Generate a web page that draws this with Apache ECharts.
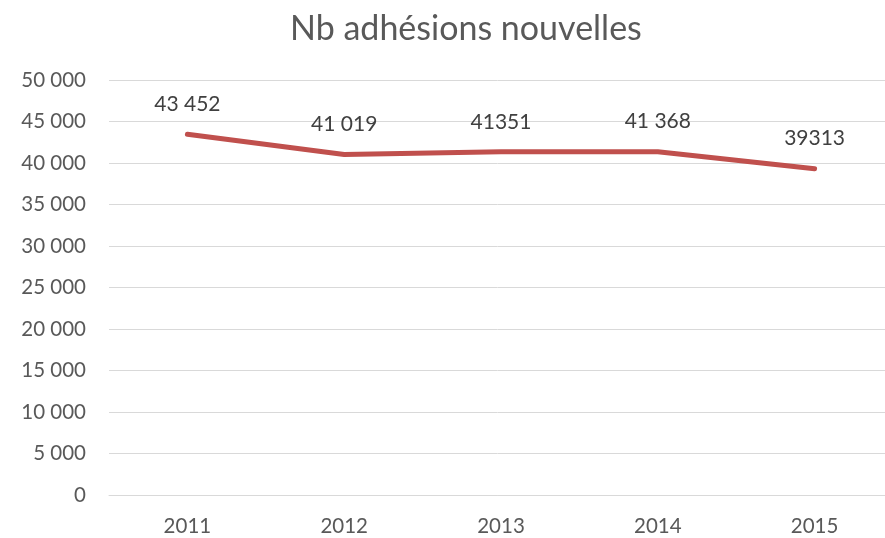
<!DOCTYPE html>
<html>
<head>
<meta charset="utf-8">
<script src="https://cdn.jsdelivr.net/npm/echarts@6/dist/echarts.min.js"></script>
<style>
  html, body { margin: 0; padding: 0; background: #fff; }
  #chart { width: 885px; height: 538px; }
</style>
</head>
<body>
<div id="chart"></div>
<script>
const years = ['2011', '2012', '2013', '2014', '2015']
const adhesions = [43452, 41019, 41351, 41368, 39313]
// labels as printed on the original (mixed formatting)
const pointLabels = ['43 452', '41 019', '41351', '41 368', '39313']

const textColor = '#595959'
const fontFamily = 'Lato, "Open Sans", sans-serif'

function formatThousands(value) {
  return String(value).replace(/\B(?=(\d{3})+(?!\d))/g, ' ')
}

const chart = echarts.init(document.getElementById('chart'))
chart.setOption({
  animation: false,
  title: {
    text: 'Nb adhésions nouvelles',
    left: 285,
    top: 7,
    textStyle: { color: textColor, fontSize: 34, fontWeight: 'normal', fontFamily }
  },
  grid: { left: 109, width: 784, top: 80, height: 415, outerBoundsMode: 'none' },
  xAxis: {
    type: 'category',
    data: years,
    axisLine: { lineStyle: { color: '#d9d9d9', width: 1 } },
    axisTick: { show: false },
    axisLabel: { color: textColor, fontSize: 20.5, fontFamily, margin: 21 }
  },
  yAxis: {
    type: 'value',
    min: 0,
    max: 50000,
    interval: 5000,
    axisLine: { show: false },
    axisTick: { show: false },
    axisLabel: {
      color: textColor,
      fontSize: 20.5,
      fontFamily,
      margin: 23,
      formatter: formatThousands
    },
    splitLine: { lineStyle: { color: '#d9d9d9', width: 1 } }
  },
  series: [
    {
      type: 'line',
      data: adhesions,
      symbol: 'circle',
      symbolSize: 1,
      itemStyle: { color: 'rgba(0,0,0,0)' },
      lineStyle: { color: '#C0504D', width: 5, cap: 'round' },
      label: {
        show: true,
        position: 'top',
        distance: 19,
        color: '#404040',
        fontSize: 21,
        fontFamily,
        formatter: (p) => pointLabels[p.dataIndex]
      }
    }
  ]
})
</script>
</body>
</html>
